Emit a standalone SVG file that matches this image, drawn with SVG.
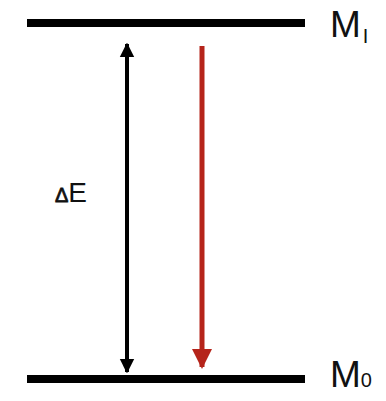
<svg xmlns="http://www.w3.org/2000/svg" width="386" height="401" viewBox="0 0 386 401">
<style>
.lvl{stroke:#000;stroke-width:8}
.lbl{font-family:"Liberation Sans",Arial,sans-serif;fill:#111}
</style>
<defs>
<marker id="ah" viewBox="0 0 10 10" refX="9" refY="5" markerWidth="3.6" markerHeight="4.6" markerUnits="strokeWidth" orient="auto-start-reverse"><path d="M0,0 L10,5 L0,10 Z" fill="#000"/></marker>
<marker id="rh" viewBox="0 0 10 10" refX="9" refY="5" markerWidth="4" markerHeight="4.6" markerUnits="strokeWidth" orient="auto"><path d="M0,0 L10,5 L0,10 Z" fill="#b5241a"/></marker>
</defs>
<rect width="386" height="401" fill="#fff"/>
<g id="M1">
<line class="lvl" x1="27" y1="23" x2="305" y2="23"/>
<text class="lbl" x="330" y="37" font-size="37">M<tspan font-size="20" dy="6" dx="2">I</tspan></text>
</g>
<g id="M0">
<line class="lvl" x1="27" y1="379" x2="305" y2="379"/>
<text class="lbl" x="330" y="387" font-size="37">M<tspan font-size="20">0</tspan></text>
</g>
<g id="dE">
<text class="lbl" x="55" y="202" font-size="28"><tspan font-size="20" stroke="#111" stroke-width="0.8">Δ</tspan>E</text>
</g>
<g id="connectors">
<line x1="127" y1="44" x2="127" y2="372" stroke="#000" stroke-width="4" marker-start="url(#ah)" marker-end="url(#ah)"/>
<line x1="202" y1="46" x2="202" y2="367" stroke="#b5241a" stroke-width="5" marker-end="url(#rh)"/>
</g>
</svg>
